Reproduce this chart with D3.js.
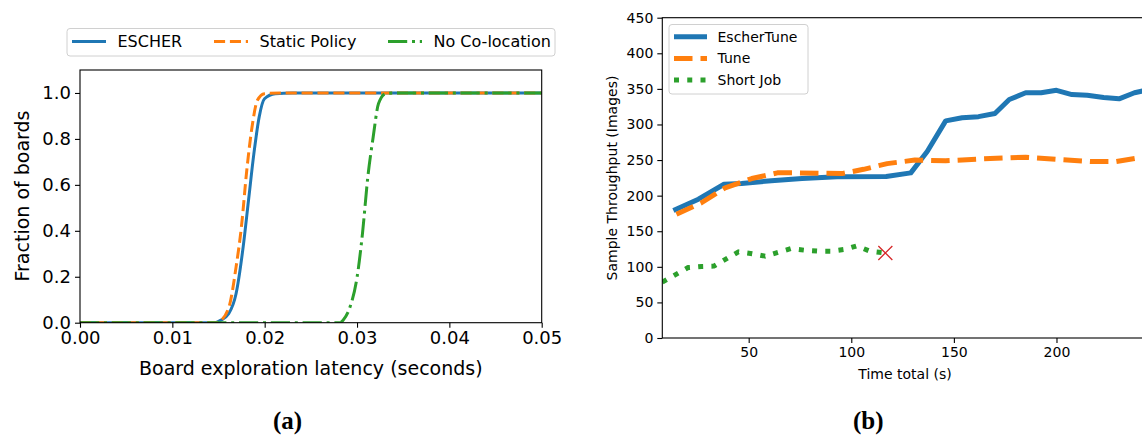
<!DOCTYPE html>
<html>
<head>
<meta charset="utf-8">
<script src="https://cdn.jsdelivr.net/npm/d3@7"></script>
<style>
  body { margin: 0; background: #fff; }
  svg { display: block; font-family: "DejaVu Sans", sans-serif; }
</style>
</head>
<body>
<main></main>
<script>
// ---- panel (a): CDF of board exploration latency ----
const cdfEscher = [[0,0],[0.0146,0.0],[0.0152,0.01],[0.0161,0.039],[0.0169,0.126],[0.01767,0.33],[0.01825,0.533],
  [0.01883,0.736],[0.0194,0.895],[0.01998,0.975],[0.02114,0.997],[0.023,1],[0.05,1]];
const cdfStatic = [[0,0],[0.0148,0.0],[0.015,0.003],[0.01613,0.068],[0.0169,0.242],[0.01748,0.417],[0.01806,0.663],
  [0.01863,0.852],[0.01921,0.968],[0.01998,0.997],[0.022,1],[0.05,1]];
const cdfNoColoc = [[0,0],[0.0282,0.0],[0.02847,0.01],[0.02924,0.068],[0.03001,0.199],[0.03059,0.388],[0.03117,0.634],
  [0.03175,0.808],[0.03233,0.954],[0.0331,0.997],[0.034,1],[0.05,1]];
const cdfNames = ["ESCHER", "Static Policy", "No Co-location"];
const xTicksA = [0, 0.01, 0.02, 0.03, 0.04, 0.05];
const yTicksA = [0, 0.2, 0.4, 0.6, 0.8, 1.0];

// ---- panel (b): throughput over time ----
const escherTune = [[13.3,179],[25.5,195],[38,216],[46.5,217],[61,221],[76,224],[93,226.5],[117,227],[129,232],
  [137,262],[146,305],[154,309.5],[162,311],[170,315.5],[177,335],[185,344.5],[192.5,344.5],[200,348],
  [207.5,342],[215,341],[223,338],[230.5,336],[238,344.5],[242,347]];
const tune = [[14.8,174],[27,190],[38.5,211],[51.5,224],[64,232],[72,232],[95.5,231],[106,237],[117.5,245],
  [131,250],[146,249],[163,251.5],[185,254],[200,251],[217,248],[229,248],[242,254]];
const shortJob = [[7.9,78.5],[20.5,99],[27,100.5],[33,101],[45,121],[51.7,118.5],[58,115],[70.6,125.6],[77.3,123.3],
  [84,122],[90.5,122],[97.2,124.7],[102.6,129.4],[109,122],[116.6,119.5]];
const failPoint = [116.6, 119.5];
const tputNames = ["EscherTune", "Tune", "Short Job"];
const xTicksB = [50, 100, 150, 200];
const yTicksB = [0, 50, 100, 150, 200, 250, 300, 350, 400, 450];

const blue = "#1f77b4", orange = "#ff7f0e", green = "#2ca02c", red = "#d62728";

const svg = d3.select("main").append("svg").attr("width", 1142).attr("height", 437);

// ================= panel (a) =================
const xA = d3.scaleLinear().domain([0, 0.05]).range([80, 541.7]);
const yA = d3.scaleLinear().domain([0, 1.1]).range([322.7, 70]);

svg.append("clipPath").attr("id", "clipA").append("rect")
  .attr("x", 80).attr("y", 70).attr("width", 461.7).attr("height", 252.7);

const lineA = d3.line().x(d => xA(d[0])).y(d => yA(d[1])).curve(d3.curveMonotoneX);
const lwA = 3;
const seriesA = [
  { data: cdfEscher, color: blue, dash: null },
  { data: cdfStatic, color: orange, dash: `${3.7 * lwA},${1.6 * lwA}` },
  { data: cdfNoColoc, color: green, dash: `${6.4 * lwA},${1.6 * lwA},${1 * lwA},${1.6 * lwA}` }
];
const gA = svg.append("g").attr("clip-path", "url(#clipA)");
seriesA.forEach(s => {
  gA.append("path").attr("d", lineA(s.data)).attr("fill", "none")
    .attr("stroke", s.color).attr("stroke-width", lwA)
    .attr("stroke-dasharray", s.dash).attr("stroke-linejoin", "round");
});

// axes (a)
const axA = svg.append("g");
axA.append("g").attr("transform", "translate(0,322.7)")
  .call(d3.axisBottom(xA).tickValues(xTicksA).tickFormat(d3.format(".2f")).tickSize(5).tickPadding(4));
axA.append("g").attr("transform", "translate(80,0)")
  .call(d3.axisLeft(yA).tickValues(yTicksA).tickFormat(d3.format(".1f")).tickSize(5).tickPadding(4));
axA.selectAll(".domain").remove();
axA.selectAll("text").attr("fill", "#000").style("font-family", "DejaVu Sans").style("font-size", "18px");
axA.selectAll(".tick line").attr("stroke", "#000").attr("stroke-width", 1.1);
svg.append("rect").attr("x", 80).attr("y", 70).attr("width", 461.7).attr("height", 252.7)
  .attr("fill", "none").attr("stroke", "#000").attr("stroke-width", 1.1);

svg.append("text").attr("x", 310.8).attr("y", 375).attr("text-anchor", "middle")
  .style("font-size", "19px").text("Board exploration latency (seconds)");
svg.append("text").attr("transform", "translate(29,196) rotate(-90)").attr("text-anchor", "middle")
  .style("font-size", "19px").text("Fraction of boards");

// legend (a)
const legA = svg.append("g");
legA.append("rect").attr("x", 67).attr("y", 28.5).attr("width", 488).attr("height", 27.5).attr("rx", 3)
  .attr("fill", "#fff").attr("fill-opacity", 0.8).attr("stroke", "#d0d0d0").attr("stroke-width", 1);
const legAx = [72, 214, 388];
seriesA.forEach((s, i) => {
  legA.append("line").attr("x1", legAx[i]).attr("x2", legAx[i] + 34).attr("y1", 41.5).attr("y2", 41.5)
    .attr("stroke", s.color).attr("stroke-width", lwA).attr("stroke-dasharray", s.dash);
  legA.append("text").attr("x", legAx[i] + 45.5).attr("y", 47.2).style("font-size", "16px").text(cdfNames[i]);
});

svg.append("text").attr("x", 287.5).attr("y", 429).attr("text-anchor", "middle")
  .style("font-family", "Liberation Serif").style("font-weight", "bold").style("font-size", "25px").text("(a)");

// ================= panel (b) =================
const xB = d3.scaleLinear().domain([7.9, 244.6]).range([662.3, 1148]);
const yB = d3.scaleLinear().domain([0, 450]).range([338, 17.7]);

svg.append("clipPath").attr("id", "clipB").append("rect")
  .attr("x", 662.3).attr("y", 17.7).attr("width", 485.7).attr("height", 320.3);

const lineB = d3.line().x(d => xB(d[0])).y(d => yB(d[1]));
const lwB = 5;
const seriesB = [
  { data: escherTune, color: blue, dash: null, cap: "butt" },
  { data: tune, color: orange, dash: `${3.7 * lwB},${1.6 * lwB}`, cap: "butt" },
  { data: shortJob, color: green, dash: `${1 * lwB},${1.65 * lwB}`, cap: "butt" }
];
const gB = svg.append("g").attr("clip-path", "url(#clipB)");
seriesB.forEach(s => {
  gB.append("path").attr("d", lineB(s.data)).attr("fill", "none")
    .attr("stroke", s.color).attr("stroke-width", lwB).attr("stroke-linecap", s.cap)
    .attr("stroke-dasharray", s.dash).attr("stroke-linejoin", "round");
});
// failure marker
const fx = xB(failPoint[0]), fy = yB(failPoint[1]);
gB.append("path").attr("d", `M${fx - 7},${fy - 7}L${fx + 7},${fy + 7}M${fx - 7},${fy + 7}L${fx + 7},${fy - 7}`)
  .attr("stroke", red).attr("stroke-width", 1.3).attr("fill", "none");

// axes (b)
const axB = svg.append("g");
axB.append("g").attr("transform", "translate(0,338)")
  .call(d3.axisBottom(xB).tickValues(xTicksB).tickSize(5).tickPadding(4));
axB.append("g").attr("transform", "translate(662.3,0)")
  .call(d3.axisLeft(yB).tickValues(yTicksB).tickSize(5).tickPadding(4));
axB.selectAll(".domain").remove();
axB.selectAll("text").attr("fill", "#000").style("font-family", "DejaVu Sans").style("font-size", "14px");
axB.selectAll(".tick line").attr("stroke", "#000").attr("stroke-width", 1.1);
svg.append("rect").attr("x", 662.3).attr("y", 17.7).attr("width", 485.7).attr("height", 320.3)
  .attr("fill", "none").attr("stroke", "#000").attr("stroke-width", 1.1);

svg.append("text").attr("x", 905).attr("y", 379).attr("text-anchor", "middle")
  .style("font-size", "14px").text("Time total (s)");
svg.append("text").attr("transform", "translate(617,178) rotate(-90)").attr("text-anchor", "middle")
  .style("font-size", "14px").text("Sample Throughput (Images)");

// legend (b)
const legB = svg.append("g");
legB.append("rect").attr("x", 669).attr("y", 24.5).attr("width", 139).attr("height", 69.5).attr("rx", 3)
  .attr("fill", "#fff").attr("fill-opacity", 0.8).attr("stroke", "#d0d0d0").attr("stroke-width", 1);
seriesB.forEach((s, i) => {
  const ly = 36.7 + i * 21.7;
  legB.append("line").attr("x1", 674).attr("x2", 707).attr("y1", ly).attr("y2", ly)
    .attr("stroke", s.color).attr("stroke-width", lwB).attr("stroke-dasharray", s.dash);
  legB.append("text").attr("x", 717.5).attr("y", ly + 5).style("font-size", "14px").text(tputNames[i]);
});

svg.append("text").attr("x", 868.3).attr("y", 429).attr("text-anchor", "middle")
  .style("font-family", "Liberation Serif").style("font-weight", "bold").style("font-size", "25px").text("(b)");
</script>
</body>
</html>
